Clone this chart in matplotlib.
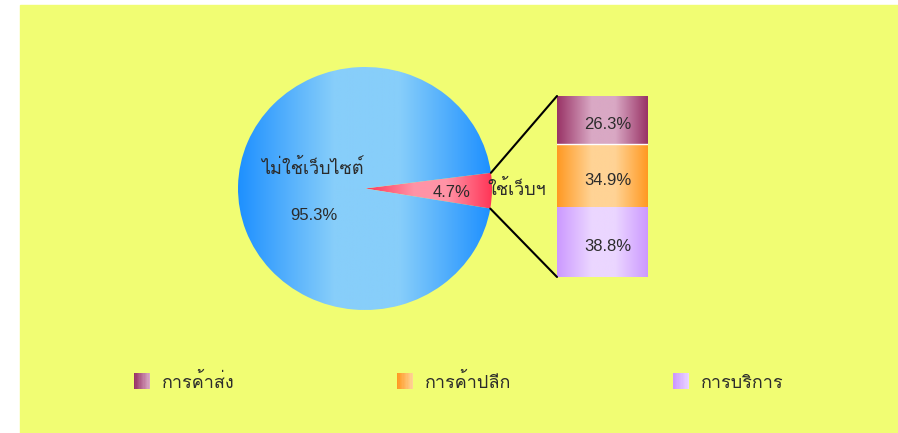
import numpy as np
import matplotlib
matplotlib.use('Agg')
import matplotlib.pyplot as plt
from matplotlib import font_manager, ft2font
from matplotlib.patches import Rectangle, ConnectionPatch
from matplotlib.legend_handler import HandlerBase
from matplotlib.colors import to_rgb
from matplotlib.transforms import offset_copy

# data
pie_labels = ['ใช้เว็บฯ', 'ไม่ใช้เว็บไซต์']
pie_values = [4.7, 95.3]
bar_labels = ['การค้าส่ง', 'การค้าปลีก', 'การบริการ']
bar_values = [26.3, 34.9, 38.8]

# (dark, light) pairs for the horizontal gradients
pie_colors = [('#ff3355', '#ff93a6'), ('#1e90ff', '#87cefa')]
bar_colors = [('#993366', '#d9a8c4'), ('#ff9922', '#ffd395'), ('#cc99ff', '#ebd6ff')]
bg = '#f1fd73'
tc = '#2b2b2b'


def find_thai_font():
    for f in font_manager.fontManager.ttflist:
        try:
            cmap = ft2font.FT2Font(f.fname).get_charmap()
        except Exception:
            continue
        if 0x0E44 in cmap and 0x0E1A in cmap and 0x0E47 in cmap:
            return f.name
    return 'DejaVu Sans'


thai = find_thai_font()
thai_fam = [thai, 'DejaVu Sans']
num_fam = ['Liberation Sans', 'DejaVu Sans']


def grad(dark, light, n=256):
    t = np.linspace(0, 1, n)
    w = np.interp(t, [0, 0.38, 0.64, 1], [0, 1, 1, 0])
    d, l = np.array(to_rgb(dark)), np.array(to_rgb(light))
    return (d[None, :] * (1 - w[:, None]) + l[None, :] * w[:, None])[None, :, :]


W, H = 898, 433
fig = plt.figure(figsize=(W / 100, H / 100), dpi=100)
fig.patch.set_facecolor('white')
fig.add_artist(Rectangle((20 / W, 0), 1 - 20 / W, 1 - 5 / H,
                         transform=fig.transFigure, color=bg, zorder=0))


def px_axes(x, y, w, h):
    ax = fig.add_axes([x / W, 1 - (y + h) / H, w / W, h / H])
    ax.set_axis_off()
    return ax


# pie
pax = px_axes(238, 67, 254, 243)
start = -9.5
wedges, _ = pax.pie(pie_values, startangle=start, radius=1,
                    wedgeprops=dict(linewidth=0))
for w, (dark, light) in zip(wedges, pie_colors):
    v = w.get_path().vertices
    im = pax.imshow(grad(dark, light),
                    extent=(v[:, 0].min(), v[:, 0].max(), v[:, 1].min(), v[:, 1].max()),
                    aspect='auto', zorder=2)
    im.set_clip_path(w)
    w.set_facecolor('none')
pax.set_xlim(-1, 1)
pax.set_ylim(-1, 1)
pax.set_aspect('auto')

pax.text(-0.413, 0.165, pie_labels[1], ha='center', va='center', color=tc,
         family=thai_fam, fontsize=13, zorder=5)
pax.text(-0.405, -0.222, f'{pie_values[1]:.1f}%', ha='center', va='center', color=tc,
         family=num_fam, fontsize=12, zorder=5)
pax.text(0.685, -0.037, f'{pie_values[0]:.1f}%', ha='center', va='center', color=tc,
         family=num_fam, fontsize=12, zorder=5)
pax.text(1.193, -0.01, pie_labels[0], ha='center', va='center', color=tc,
         family=thai_fam, fontsize=13, zorder=5, clip_on=False)

# stacked bar
bax = px_axes(557, 96, 91, 181)
bottom = 0
for i in range(len(bar_values))[::-1]:
    rect = bax.bar(0, bar_values[i], bottom=bottom, width=1, color='none')[0]
    dark, light = bar_colors[i]
    im = bax.imshow(grad(dark, light),
                    extent=(rect.get_x(), rect.get_x() + rect.get_width(),
                            rect.get_y(), rect.get_y() + rect.get_height()),
                    aspect='auto')
    im.set_clip_path(rect)
    bax.text(0.06, bottom + bar_values[i] / 2, f'{bar_values[i]:.1f}%',
             ha='center', va='center', color=tc, family=num_fam, fontsize=12,
             transform=offset_copy(bax.transData, fig=fig, y=-5, units='dots'))
    bottom += bar_values[i]
bax.set_xlim(-0.5, 0.5)
bax.set_ylim(0, bottom)
# thin white separator under the top segment
bax.axhline(bottom - bar_values[0], color='white', lw=1)

# connector lines
a_top = np.radians(start + pie_values[0] * 3.6)
a_bot = np.radians(start)
for a, yb in [(a_top, bottom), (a_bot, 0)]:
    fig.add_artist(ConnectionPatch(xyA=(np.cos(a), np.sin(a)), coordsA=pax.transData,
                                   xyB=(-0.5, yb), coordsB=bax.transData,
                                   color='black', lw=1.5))


# legend with little gradient squares
class GradHandler(HandlerBase):
    def __init__(self, dark, light):
        super().__init__()
        self.dark, self.light = dark, light

    def create_artists(self, legend, orig_handle, xdescent, ydescent,
                       width, height, fontsize, trans):
        n = 12
        d, l = np.array(to_rgb(self.dark)), np.array(to_rgb(self.light))
        arts = []
        for k in range(n):
            c = d + (l - d) * k / (n - 1)
            arts.append(Rectangle((-xdescent + width * k / n, -ydescent), width / n * 1.05,
                                  height, facecolor=c, edgecolor='none', transform=trans))
        return arts


handles = [Rectangle((0, 0), 1, 1) for _ in bar_labels]
fs = 13
fpx = fs * 100 / 72
fig.legend(handles, bar_labels,
           handler_map={h: GradHandler(*c) for h, c in zip(handles, bar_colors)},
           ncol=3, mode='expand', loc='center',
           bbox_to_anchor=(134 / W, 1 - 392 / H, (784 - 134) / W, 20 / H),
           frameon=False, prop=font_manager.FontProperties(family=thai_fam, size=fs),
           handlelength=16 / fpx, handleheight=18 / fpx, handletextpad=12 / fpx,
           borderpad=0, borderaxespad=0, labelcolor=tc)

fig.savefig('out.png', dpi=100, facecolor='white')
